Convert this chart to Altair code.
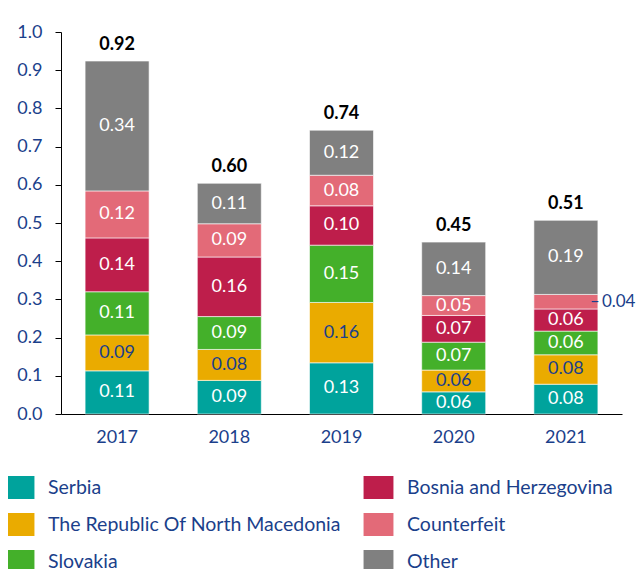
import altair as alt
import pandas as pd

years = ["2017", "2018", "2019", "2020", "2021"]
countries = ["Serbia", "The Republic Of North Macedonia", "Slovakia",
             "Bosnia and Herzegovina", "Counterfeit", "Other"]
colors = ["#00A39C", "#EAAB00", "#44B02A", "#BE1E4B", "#E36A78", "#808080"]

serbia = [0.113, 0.088, 0.134, 0.058, 0.078]
macedonia = [0.094, 0.081, 0.158, 0.057, 0.077]
slovakia = [0.113, 0.086, 0.150, 0.073, 0.062]
bosnia = [0.141, 0.156, 0.103, 0.070, 0.058]
counterfeit = [0.123, 0.087, 0.080, 0.052, 0.038]
other = [0.340, 0.106, 0.118, 0.140, 0.194]

series = [serbia, macedonia, slovakia, bosnia, counterfeit, other]
rows = []
for ci, (c, vals) in enumerate(zip(countries, series)):
    for y, v in zip(years, vals):
        rows.append({"year": y, "country": c, "value": v, "order": ci})
df = pd.DataFrame(rows)

BLUE = "#1B3F8B"
FONT = "Lato"
FS = 18

yaxis = alt.Axis(values=[round(i / 10, 1) for i in range(11)], format=".1f",
                 grid=False, domainColor="black", tickColor="black",
                 tickSize=6, labelColor=BLUE, labelFont=FONT,
                 labelFontSize=FS, labelPadding=13, labelOverlap=False,
                 title=None)
yscale = alt.Scale(domain=[0, 1], nice=False)
xaxis = alt.Axis(labelAngle=0, ticks=False, domainColor="black",
                 labelColor=BLUE, labelFont=FONT, labelFontSize=FS,
                 labelPadding=14, title=None)
xenc = alt.X("year:N", sort=years, title=None,
             scale=alt.Scale(paddingInner=0, paddingOuter=0), axis=xaxis)

base = alt.Chart(df).transform_stack(
    stack="value", groupby=["year"], sort=[alt.SortField("order")], as_=["y0", "y1"]
).transform_calculate(mid="(datum.y0 + datum.y1) / 2")

bars = base.mark_bar(size=64, stroke="white", strokeWidth=0.6).encode(
    x=xenc,
    y=alt.Y("y0:Q", title=None, scale=yscale, axis=yaxis),
    y2="y1:Q",
    color=alt.Color("country:N",
                    scale=alt.Scale(domain=countries, range=colors),
                    legend=alt.Legend(
                        values=countries, title=None, orient="none",
                        legendX=-53, legendY=444, columns=2,
                        symbolType="M-1.3,-1H1.3V1H-1.3Z", symbolSize=529,
                        symbolStrokeWidth=0, symbolOpacity=1,
                        labelFont=FONT, labelFontSize=19.5, labelColor=BLUE,
                        labelOffset=17, rowPadding=14, columnPadding=22,
                        padding=0, labelLimit=400)),
)

inside = base.transform_filter("datum.value >= 0.045").mark_text(
    font=FONT, fontSize=FS, baseline="middle"
).encode(
    x=xenc,
    y=alt.Y("mid:Q", scale=yscale, axis=yaxis),
    text=alt.Text("value:Q", format=".2f"),
    color=alt.condition(
        "datum.country == 'The Republic Of North Macedonia'",
        alt.value(BLUE), alt.value("white")),
)

outside = base.transform_filter("datum.value < 0.045").transform_calculate(
    lab="'\u2013\u2009' + format(datum.value, '.2f')"
).mark_text(font=FONT, fontSize=17, baseline="middle", align="left",
            dx=24, color=BLUE).encode(
    x=xenc,
    y=alt.Y("mid:Q", scale=yscale, axis=yaxis),
    text="lab:N",
)

totals = alt.Chart(df).mark_text(
    font=FONT, fontSize=FS, fontWeight="bold", baseline="bottom", dy=-7,
    color="black"
).encode(
    x=xenc,
    y=alt.Y("sum(value):Q", scale=yscale, axis=yaxis),
    text=alt.Text("sum(value):Q", format=".2f"),
)

chart = alt.layer(bars, inside, outside, totals).properties(
    width=561, height=382,
    autosize=alt.AutoSizeParams(type="none"),
    padding={"left": 53, "top": 24, "right": 14, "bottom": 155},
).configure_view(stroke=None)

chart.save("out.html", embed_options={"renderer": "svg", "actions": False})
